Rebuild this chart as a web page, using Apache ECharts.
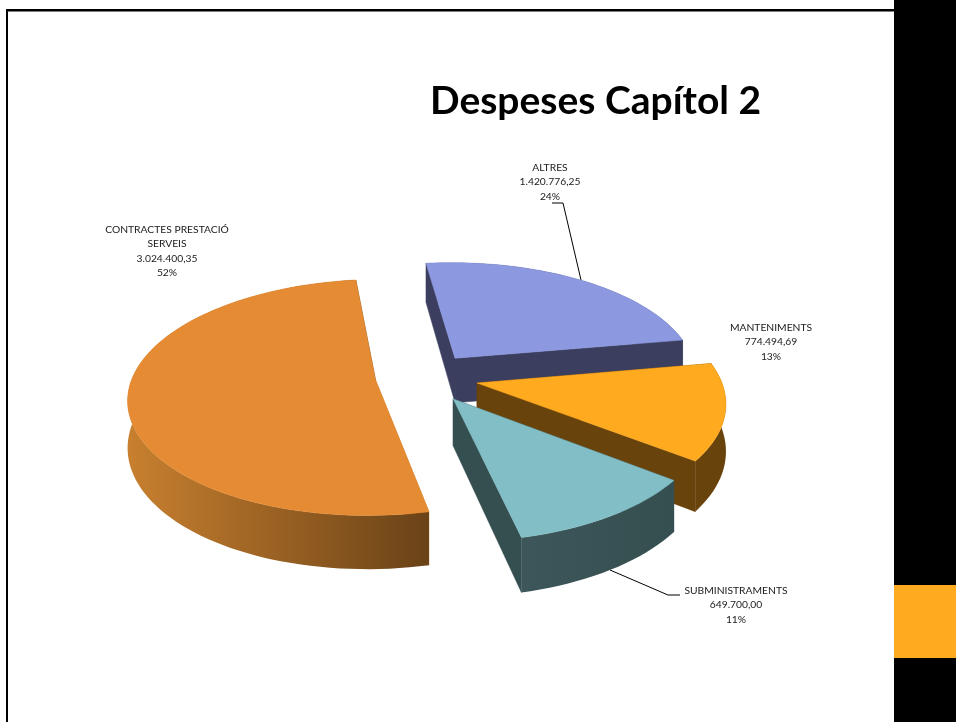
<!DOCTYPE html>
<html><head><meta charset="utf-8">
<style>html,body{margin:0;padding:0;background:#fff}#c{width:956px;height:722px}</style>
<script src="https://cdn.jsdelivr.net/npm/echarts@6/dist/echarts.min.js"></script>
</head><body><div id="c"></div>
<script>
var chartTitle = 'Despeses Capítol 2';
var categories = ['ALTRES', 'MANTENIMENTS', 'SUBMINISTRAMENTS', 'CONTRACTES PRESTACIÓ\nSERVEIS'];
var values = [1420776.25, 774494.69, 649700.00, 3024400.35];
var valueLabels = ['1.420.776,25', '774.494,69', '649.700,00', '3.024.400,35'];
var percentLabels = ['24%', '13%', '11%', '52%'];
var topColors = ['#8C99E0', '#FFAA1F', '#82BEC5', '#E58B33'];
var wallColors = [['#3B3E5E', '#3B3E5E'], ['#68430C', '#68430C'], ['#3C565A', '#354F50'], ['#C8802F', '#6A4217']];

// view layout of the projected pie
var view = {cx: 425, cy: 383, k: 0.475, p: 0.0006, R: 245, H: 46, start: -7};
var explode = [[62, 30], [52, 90], [43, 140], [50, 277]];
var labelPos = [[550, 160], [771, 320], [736, 583], [167, 222]];
var leaders = [[[552, 203], [563, 203], [581, 280]], null, [[680, 595], [668, 595], [610, 570]], null];

var total = values.reduce(function (a, b) { return a + b; }, 0);
function proj(X, Y, Z) {
  var w = 1 - view.p * Y;
  return [view.cx + X / w, view.cy + (view.k * Y + (Z || 0)) / w];
}
function renderSlice(params, api) {
  var i = api.value(0), v = api.value(1);
  var before = 0;
  for (var j = 0; j < i; j++) before += values[j];
  var a0 = view.start + before / total * 360, a1 = a0 + v / total * 360;
  var rad = Math.PI / 180;
  var ex = explode[i];
  var ax = ex[0] * Math.sin(ex[1] * rad), ay = -ex[0] * Math.cos(ex[1] * rad);
  var rim = [];
  for (var a = a0; a < a1; a += 2) rim.push([ax + view.R * Math.sin(a * rad), ay - view.R * Math.cos(a * rad)]);
  rim.push([ax + view.R * Math.sin(a1 * rad), ay - view.R * Math.cos(a1 * rad)]);
  function P(g, z) { return proj(g[0], g[1], z); }
  var apex = [ax, ay];
  var kids = [];
  var flat = wallColors[i][1];
  // leader sits behind its slice
  if (leaders[i]) kids.push({type: 'polyline', shape: {points: leaders[i]}, style: {fill: null, stroke: '#000', lineWidth: 1}});
  function quad(g1, g2, fill) {
    kids.push({type: 'polygon', shape: {points: [P(g1, 0), P(g2, 0), P(g2, view.H), P(g1, view.H)]},
      style: {fill: fill, stroke: fill, lineWidth: 0.5}});
  }
  // radial walls first
  quad(apex, rim[0], wallColors[i][0]);
  quad(apex, rim[rim.length - 1], flat);
  // outer wall, shaded along its visible width
  var xs = rim.map(function (g) { return P(g, 0)[0]; });
  var minX = Math.min.apply(null, xs), maxX = Math.max.apply(null, xs);
  var outer = rim.map(function (g) { return P(g, 0); }).concat(rim.slice().reverse().map(function (g) { return P(g, view.H); }));
  var grad = new echarts.graphic.LinearGradient(minX, 0, maxX, 0, [
    {offset: 0, color: wallColors[i][0]}, {offset: 1, color: wallColors[i][1]}], true);
  kids.push({type: 'polygon', shape: {points: outer}, style: {fill: grad}});
  // top face
  kids.push({type: 'polygon', shape: {points: [P(apex, 0)].concat(rim.map(function (g) { return P(g, 0); }))},
    style: {fill: topColors[i], stroke: topColors[i], lineWidth: 0.5}});
  // label
  kids.push({type: 'text', z2: 6, x: labelPos[i][0], y: labelPos[i][1], style: {
    text: categories[i] + '\n' + valueLabels[i] + '\n' + percentLabels[i],
    fill: '#1a1a1a', font: '10.3px Lato', align: 'center', verticalAlign: 'top', lineHeight: 14.5}});
  return {type: 'group', children: kids};
}
var chart = echarts.init(document.getElementById('c'), null, {renderer: 'canvas'});
chart.setOption({
  animation: false,
  backgroundColor: '#fff',
  title: {text: chartTitle, left: 430, top: 82, padding: 0,
    textStyle: {fontFamily: 'Lato', fontWeight: 'bold', fontSize: 39, color: '#000'}},
  graphic: [
    {type: 'rect', z: -1, shape: {x: 6, y: 9, width: 888, height: 2.5}, style: {fill: '#000'}},
    {type: 'rect', z: -1, shape: {x: 6, y: 9, width: 2, height: 713}, style: {fill: '#000'}},
    {type: 'rect', z: -1, shape: {x: 894, y: 0, width: 62, height: 722}, style: {fill: '#000'}},
    {type: 'rect', z: -1, shape: {x: 894, y: 585, width: 62, height: 73}, style: {fill: '#FFAA1F'}}
  ],
  xAxis: {show: false}, yAxis: {show: false},
  series: [{type: 'custom', coordinateSystem: 'none', clip: false, silent: true,
    renderItem: renderSlice,
    data: values.map(function (v, i) { return [i, v]; })}]
});
</script></body></html>
